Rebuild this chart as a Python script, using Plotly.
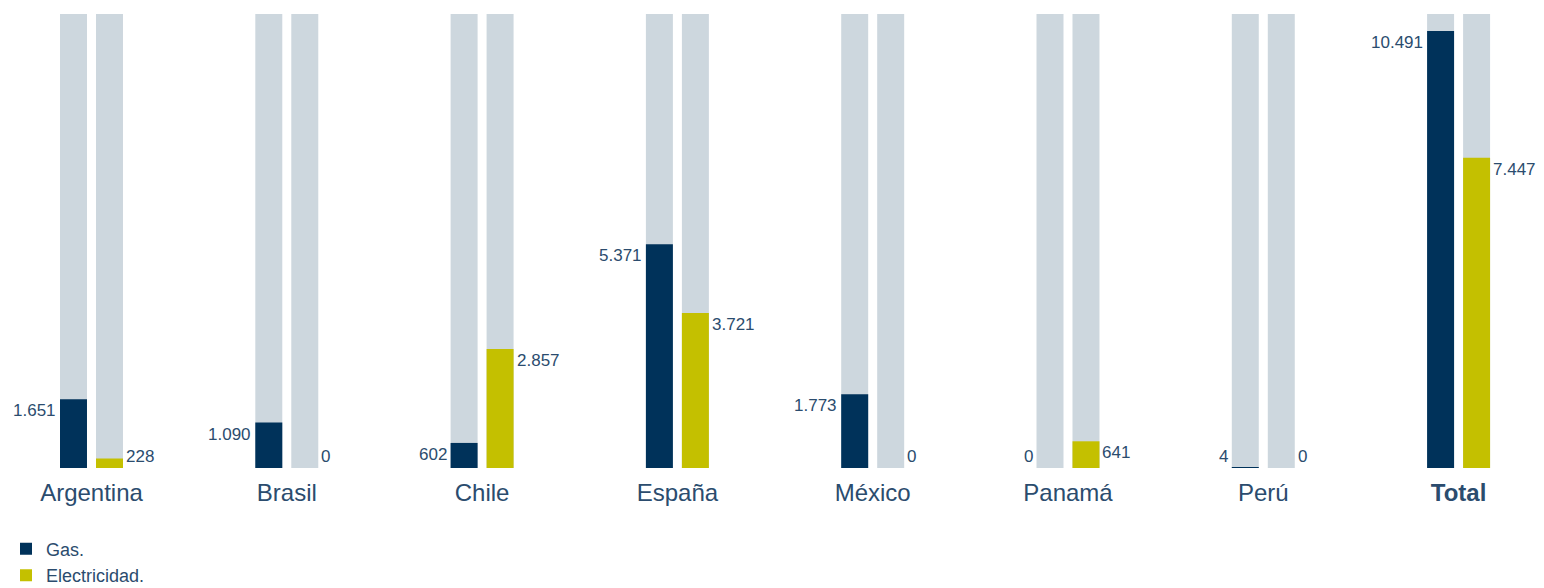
import plotly.graph_objects as go

categories = ["Argentina", "Brasil", "Chile", "España", "México", "Panamá", "Perú", "Total"]
gas = [1651, 1090, 602, 5371, 1773, 0, 4, 10491]
electricidad = [228, 0, 2857, 3721, 0, 641, 0, 7447]
tick_labels = ["Argentina", "Brasil", "Chile", "España", "México", "Panamá", "Perú", "<b>Total</b>"]
series_names = ["Gas.", "Electricidad."]

BG_MAX = 10900
NAVY = "#00325a"
LIME = "#c4c000"
GREY = "#cdd7de"
TEXT = "#2b4c6e"
FONT = "Liberation Sans"

BAR_W = 0.1382
GAS_OFF = -0.1613
ELE_OFF = 0.023

def fmt(v):
    return f"{v:,}".replace(",", ".")

x = list(range(len(categories)))
fig = go.Figure()

fig.add_trace(go.Bar(x=x, y=[BG_MAX] * len(x), width=BAR_W, offset=GAS_OFF,
                     marker=dict(color=GREY, line=dict(width=0)), showlegend=False, hoverinfo="skip"))
fig.add_trace(go.Bar(x=x, y=[BG_MAX] * len(x), width=BAR_W, offset=ELE_OFF,
                     marker=dict(color=GREY, line=dict(width=0)), showlegend=False, hoverinfo="skip"))
fig.add_trace(go.Bar(x=x, y=gas, width=BAR_W, offset=GAS_OFF, name=series_names[0],
                     marker=dict(color=NAVY, line=dict(width=0)), legendgroup="g"))
fig.add_trace(go.Bar(x=x, y=electricidad, width=BAR_W, offset=ELE_OFF, name=series_names[1],
                     marker=dict(color=LIME, line=dict(width=0)), legendgroup="e"))

LABEL_H = 560  # label height in data units
for i in x:
    fig.add_annotation(x=i + GAS_OFF, y=max(gas[i], LABEL_H), text=fmt(gas[i]),
                       xanchor="right", yanchor="top", showarrow=False, xshift=-2,
                       font=dict(size=17, color=TEXT, family=FONT))
    fig.add_annotation(x=i + ELE_OFF + BAR_W, y=max(electricidad[i], LABEL_H), text=fmt(electricidad[i]),
                       xanchor="left", yanchor="top", showarrow=False, xshift=1,
                       font=dict(size=17, color=TEXT, family=FONT))

fig.update_layout(
    barmode="overlay",
    width=1536, height=580,
    margin=dict(l=0, r=0, t=6, b=120, autoexpand=False),
    plot_bgcolor="white", paper_bgcolor="white",
    font=dict(family=FONT, color=TEXT),
    showlegend=True,
    legend=dict(x=-0.0013, xanchor="left", y=-0.138, yanchor="top", orientation="v",
                traceorder="normal", tracegroupgap=16,
                font=dict(size=18, color=TEXT, family=FONT), bgcolor="rgba(0,0,0,0)"),
    xaxis=dict(range=[-0.42755, 7.4373], tickvals=x, ticktext=tick_labels, showgrid=False,
               zeroline=False, showline=False, ticks="", ticklabelstandoff=8,
               tickfont=dict(size=24, color=TEXT, family=FONT), fixedrange=True),
    yaxis=dict(range=[0, BG_MAX], visible=False, showgrid=False, fixedrange=True),
)

fig.write_html("out.html")
